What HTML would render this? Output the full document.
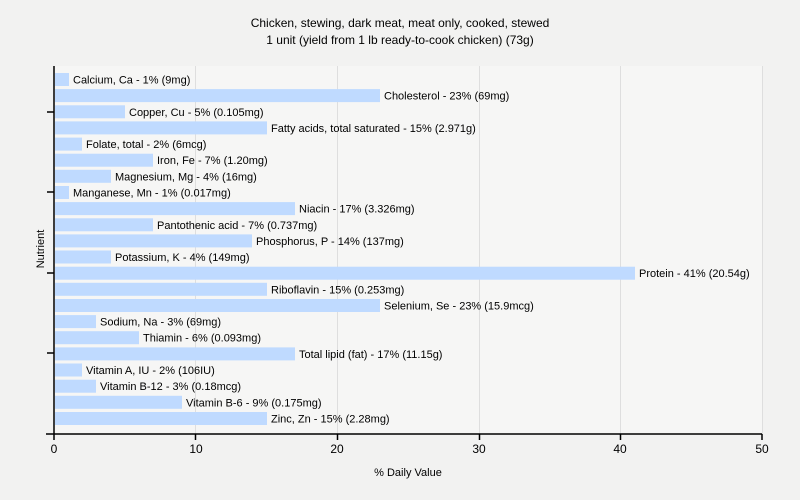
<!DOCTYPE html>
<html><head><meta charset="utf-8"><style>
body{margin:0;background:#f2f2f1;}
svg{display:block;font-family:"Liberation Sans",Arial,sans-serif;}
</style></head><body>
<svg width="800" height="500" xmlns="http://www.w3.org/2000/svg">
<rect width="800" height="500" fill="#f2f2f1"/>
<rect x="54" y="66" width="708" height="368" fill="#f6f6f5"/>
<g stroke="#dedede" stroke-width="1">
<line x1="195.5" y1="66" x2="195.5" y2="434"/>
<line x1="337.5" y1="66" x2="337.5" y2="434"/>
<line x1="479.5" y1="66" x2="479.5" y2="434"/>
<line x1="620.5" y1="66" x2="620.5" y2="434"/>
<line x1="762.5" y1="66" x2="762.5" y2="434"/>
</g>
<text x="400" y="27" font-size="12" text-anchor="middle" fill="#000">Chicken, stewing, dark meat, meat only, cooked, stewed</text>
<text x="400" y="44" font-size="12" text-anchor="middle" fill="#000">1 unit (yield from 1 lb ready-to-cook chicken) (73g)</text>
<g id="bars" font-size="11" fill="#000"></g>
<g stroke="#000" stroke-width="1.5">
<line x1="54" y1="66" x2="54" y2="434"/>
<line x1="46" y1="434" x2="762" y2="434"/>
<line x1="47" y1="112" x2="54" y2="112"/>
<line x1="47" y1="192" x2="54" y2="192"/>
<line x1="47" y1="273" x2="54" y2="273"/>
<line x1="47" y1="353" x2="54" y2="353"/>
<line x1="54" y1="434" x2="54" y2="440"/>
<line x1="195.5" y1="434" x2="195.5" y2="440"/>
<line x1="337.5" y1="434" x2="337.5" y2="440"/>
<line x1="479.5" y1="434" x2="479.5" y2="440"/>
<line x1="620.5" y1="434" x2="620.5" y2="440"/>
<line x1="762" y1="434" x2="762" y2="440"/>
</g>
<g font-size="12" text-anchor="middle" fill="#000">
<text x="54" y="453">0</text><text x="196" y="453">10</text><text x="337" y="453">20</text><text x="479" y="453">30</text><text x="620" y="453">40</text><text x="762" y="453">50</text>
<text x="408" y="476" font-size="11">% Daily Value</text>
<text x="44" y="249" font-size="11" transform="rotate(-90 44 249)">Nutrient</text>
</g>
<g font-size="11" fill="#000">
<rect x="55" y="73" width="14" height="13" fill="#bfdaff"/><text x="73" y="83.5">Calcium, Ca - 1% (9mg)</text>
<rect x="55" y="89.1" width="325" height="13" fill="#bfdaff"/><text x="384" y="99.6">Cholesterol - 23% (69mg)</text>
<rect x="55" y="105.3" width="70" height="13" fill="#bfdaff"/><text x="129" y="115.8">Copper, Cu - 5% (0.105mg)</text>
<rect x="55" y="121.4" width="212" height="13" fill="#bfdaff"/><text x="271" y="131.9">Fatty acids, total saturated - 15% (2.971g)</text>
<rect x="55" y="137.6" width="27" height="13" fill="#bfdaff"/><text x="86" y="148.1">Folate, total - 2% (6mcg)</text>
<rect x="55" y="153.7" width="98" height="13" fill="#bfdaff"/><text x="157" y="164.2">Iron, Fe - 7% (1.20mg)</text>
<rect x="55" y="169.8" width="56" height="13" fill="#bfdaff"/><text x="115" y="180.3">Magnesium, Mg - 4% (16mg)</text>
<rect x="55" y="186" width="14" height="13" fill="#bfdaff"/><text x="73" y="196.5">Manganese, Mn - 1% (0.017mg)</text>
<rect x="55" y="202.1" width="240" height="13" fill="#bfdaff"/><text x="299" y="212.6">Niacin - 17% (3.326mg)</text>
<rect x="55" y="218.3" width="98" height="13" fill="#bfdaff"/><text x="157" y="228.8">Pantothenic acid - 7% (0.737mg)</text>
<rect x="55" y="234.4" width="197" height="13" fill="#bfdaff"/><text x="256" y="244.9">Phosphorus, P - 14% (137mg)</text>
<rect x="55" y="250.5" width="56" height="13" fill="#bfdaff"/><text x="115" y="261">Potassium, K - 4% (149mg)</text>
<rect x="55" y="266.7" width="580" height="13" fill="#bfdaff"/><text x="639" y="277.2">Protein - 41% (20.54g)</text>
<rect x="55" y="282.8" width="212" height="13" fill="#bfdaff"/><text x="271" y="293.3">Riboflavin - 15% (0.253mg)</text>
<rect x="55" y="299" width="325" height="13" fill="#bfdaff"/><text x="384" y="309.5">Selenium, Se - 23% (15.9mcg)</text>
<rect x="55" y="315.1" width="41" height="13" fill="#bfdaff"/><text x="100" y="325.6">Sodium, Na - 3% (69mg)</text>
<rect x="55" y="331.2" width="84" height="13" fill="#bfdaff"/><text x="143" y="341.7">Thiamin - 6% (0.093mg)</text>
<rect x="55" y="347.4" width="240" height="13" fill="#bfdaff"/><text x="299" y="357.9">Total lipid (fat) - 17% (11.15g)</text>
<rect x="55" y="363.5" width="27" height="13" fill="#bfdaff"/><text x="86" y="374">Vitamin A, IU - 2% (106IU)</text>
<rect x="55" y="379.7" width="41" height="13" fill="#bfdaff"/><text x="100" y="390.2">Vitamin B-12 - 3% (0.18mcg)</text>
<rect x="55" y="395.8" width="127" height="13" fill="#bfdaff"/><text x="186" y="406.3">Vitamin B-6 - 9% (0.175mg)</text>
<rect x="55" y="412" width="212" height="13" fill="#bfdaff"/><text x="271" y="422.5">Zinc, Zn - 15% (2.28mg)</text>
</g>
</svg>
</body></html>
